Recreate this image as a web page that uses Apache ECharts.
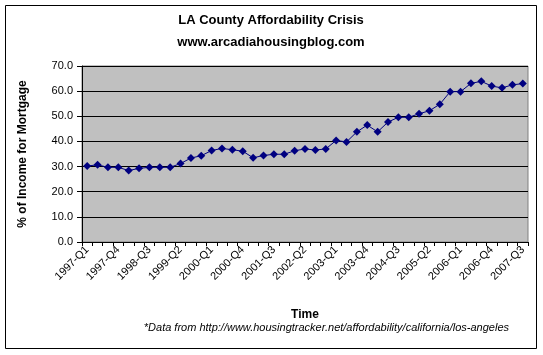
<!DOCTYPE html>
<html>
<head>
<meta charset="utf-8">
<script src="https://cdn.jsdelivr.net/npm/echarts@6/dist/echarts.min.js"></script>
<style>
html,body{margin:0;padding:0;background:#fff;}
#c{width:543px;height:355px;}
</style>
</head>
<body>
<div id="c"></div>
<script>
const categories = [
  "1997-Q1","1997-Q2","1997-Q3","1997-Q4",
  "1998-Q1","1998-Q2","1998-Q3","1998-Q4",
  "1999-Q1","1999-Q2","1999-Q3","1999-Q4",
  "2000-Q1","2000-Q2","2000-Q3","2000-Q4",
  "2001-Q1","2001-Q2","2001-Q3","2001-Q4",
  "2002-Q1","2002-Q2","2002-Q3","2002-Q4",
  "2003-Q1","2003-Q2","2003-Q3","2003-Q4",
  "2004-Q1","2004-Q2","2004-Q3","2004-Q4",
  "2005-Q1","2005-Q2","2005-Q3","2005-Q4",
  "2006-Q1","2006-Q2","2006-Q3","2006-Q4",
  "2007-Q1","2007-Q2","2007-Q3"
];
const incomePct = [
  30.2,30.7,29.7,29.7,28.4,29.3,29.7,29.7,29.7,31.2,
  33.4,34.3,36.4,37.2,36.7,36.1,33.5,34.4,34.9,34.9,
  36.3,37.0,36.6,37.0,40.4,39.8,43.8,46.5,43.8,47.7,
  49.6,49.6,51.0,52.2,54.8,59.8,59.8,63.1,63.9,62.0,
  61.3,62.5,63.0
];
const titleLines = ["LA County Affordability Crisis", "www.arcadiahousingblog.com"];
const xTitle = "Time";
const yTitle = "% of Income for Mortgage";
const footnote = "*Data from http://www.housingtracker.net/affordability/california/los-angeles";

const FONT = "'Liberation Sans', Arial, sans-serif";
const chart = echarts.init(document.getElementById('c'), null, {renderer: 'canvas'});
chart.setOption({
  animation: false,
  backgroundColor: '#ffffff',
  grid: {
    left: 82, right: 15, top: 66, bottom: 113,
    show: true, backgroundColor: '#C0C0C0', borderColor: '#808080', borderWidth: 1
  },
  xAxis: {
    type: 'category',
    data: categories,
    boundaryGap: true,
    axisLine: {lineStyle: {color: '#000', width: 1}},
    axisTick: {show: true, length: 4, interval: 0, lineStyle: {color: '#000'}},
    axisLabel: {interval: 2, rotate: 45, fontFamily: FONT, fontSize: 11, color: '#000', margin: 6},
    splitLine: {show: false},
    name: xTitle, nameLocation: 'middle', nameGap: 67,
    nameTextStyle: {fontFamily: FONT, fontSize: 12, fontWeight: 'bold', color: '#000'}
  },
  yAxis: {
    type: 'value',
    min: 0, max: 70, interval: 10,
    axisLine: {show: true, lineStyle: {color: '#000', width: 1}},
    axisTick: {show: true, length: 5, lineStyle: {color: '#000'}},
    axisLabel: {fontFamily: FONT, fontSize: 11, color: '#000', margin: 9,
      formatter: v => v.toFixed(1)},
    splitLine: {show: true, lineStyle: {color: '#000', width: 1}},
    name: yTitle, nameLocation: 'middle', nameGap: 53,
    nameTextStyle: {fontFamily: FONT, fontSize: 12, fontWeight: 'bold', color: '#000'}
  },
  series: [{
    type: 'line',
    data: incomePct,
    symbol: 'diamond',
    symbolSize: 8,
    showSymbol: true,
    showAllSymbol: true,
    itemStyle: {color: '#000080'},
    lineStyle: {color: '#000080', width: 1}
  }],
  graphic: [
    {type: 'rect', shape: {x: 5.5, y: 5.5, width: 531, height: 343}, style: {fill: 'none', stroke: '#000', lineWidth: 1}, z: 10},
    {type: 'text', x: 271, y: 20, style: {text: titleLines[0], font: "bold 13px 'Liberation Sans', Arial", fill: '#000', textAlign: 'center', textVerticalAlign: 'middle'}},
    {type: 'text', x: 271, y: 42, style: {text: titleLines[1], font: "bold 13px 'Liberation Sans', Arial", fill: '#000', textAlign: 'center', textVerticalAlign: 'middle'}},
    {type: 'text', x: 509, y: 328, style: {text: footnote, font: "italic 11px 'Liberation Sans', Arial", fill: '#000', textAlign: 'right', textVerticalAlign: 'middle'}}
  ]
});
</script>
</body>
</html>
